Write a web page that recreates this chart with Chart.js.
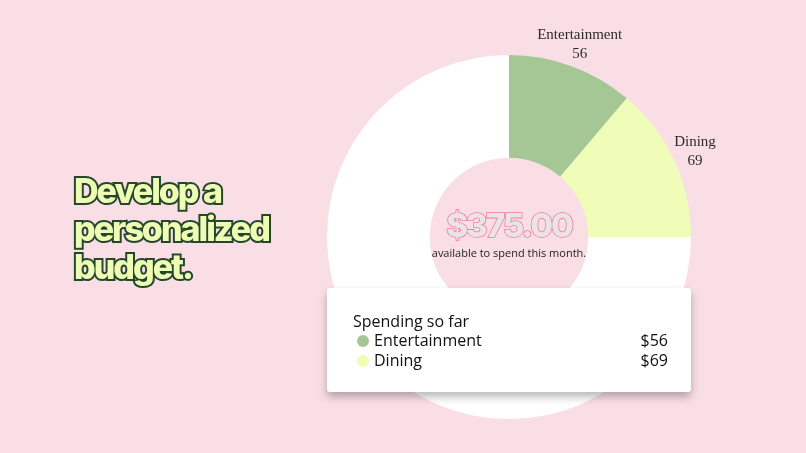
<!DOCTYPE html>
<html>
<head>
<meta charset="utf-8">
<script src="https://cdn.jsdelivr.net/npm/chart.js@4/dist/chart.umd.min.js"></script>
<style>
  html, body { margin: 0; padding: 0; }
  body { width: 806px; height: 453px; background: #fadee5; position: relative; overflow: hidden; }
  #wrap { position: absolute; left: 0; top: 0; width: 806px; height: 453px; }
  .title {
    position: absolute; left: 74px; top: 172px;
    font-family: Inter, sans-serif; font-weight: 800; font-size: 34px; line-height: 38px;
    letter-spacing: -2px; color: #effdb4;
    -webkit-text-stroke: 4px #24472c; paint-order: stroke fill;
  }
  .amount {
    position: absolute; left: 409px; width: 200px; top: 205px; text-align: center;
    font-family: Inter, sans-serif; font-weight: 800; font-size: 33px; letter-spacing: -2px;
    color: #e9e4e6; -webkit-text-stroke: 1.6px #f27aa3; paint-order: stroke fill;
  }
  .sub {
    position: absolute; left: 409px; width: 200px; top: 245px; text-align: center;
    font-family: "Open Sans", sans-serif; font-size: 11px; color: #222;
  }
  .card {
    position: absolute; left: 327px; top: 288px; width: 364px; height: 104px;
    background: #fff; border-radius: 3px; box-shadow: 0 5px 9px rgba(0,0,0,0.28);
    font-family: "Open Sans", sans-serif; font-size: 16px; color: #111;
  }
  .card .head { position: absolute; left: 26px; top: 22px; }
  .row { position: absolute; left: 30px; right: 23px; height: 20px; line-height: 20px; }
  .dot { display: inline-block; width: 12px; height: 12px; border-radius: 6px; vertical-align: -1px; margin-right: 5px; }
  .row .val { position: absolute; right: 0; top: 0; }
</style>
</head>
<body>
<div id="wrap"><canvas id="myChart" width="806" height="453"></canvas></div>
<div class="title">Develop a<br>personalized<br>budget.</div>
<div class="amount" id="amount"></div>
<div class="sub">available to spend this month.</div>
<div class="card" id="card"><div class="head">Spending so far</div></div>
<script>
var categories = ['Entertainment', 'Dining', 'Available'];
var amounts = [56, 69, 375];
var sliceColors = ['#a5c796', '#effdb8', '#ffffff'];
var labelled = [true, true, false];

document.getElementById('amount').textContent = '$' + amounts[2].toFixed(2);

// legend rows in the card
var card = document.getElementById('card');
for (var i = 0; i < 2; i++) {
  var row = document.createElement('div');
  row.className = 'row';
  row.style.top = (42 + i * 20) + 'px';
  row.innerHTML = '<span class="dot" style="background:' + sliceColors[i] + '"></span>' + categories[i] +
    '<span class="val">$' + amounts[i] + '</span>';
  card.appendChild(row);
}

// draw category + value outside each labelled slice
var outsideLabels = {
  id: 'outsideLabels',
  afterDatasetsDraw: function(chart) {
    var ctx = chart.ctx;
    var meta = chart.getDatasetMeta(0);
    ctx.save();
    ctx.fillStyle = '#2b2b2b';
    ctx.textAlign = 'center';
    ctx.textBaseline = 'middle';
    ctx.font = '15px "Liberation Serif", serif';
    meta.data.forEach(function(arc, idx) {
      if (!labelled[idx]) return;
      var p = arc.getProps(['x', 'y', 'startAngle', 'endAngle', 'outerRadius'], true);
      var a = (p.startAngle + p.endAngle) / 2;
      var r = p.outerRadius + 23;
      var x = p.x + Math.cos(a) * r;
      var y = p.y + Math.sin(a) * r;
      ctx.fillText(categories[idx], x, y - 9);
      ctx.fillText(String(amounts[idx]), x, y + 10);
    });
    ctx.restore();
  }
};

var myChart = new Chart(document.getElementById('myChart'), {
  type: 'doughnut',
  data: {
    labels: categories,
    datasets: [{
      data: amounts,
      backgroundColor: sliceColors,
      borderWidth: 0
    }]
  },
  options: {
    responsive: false,
    animation: false,
    cutout: '43.5%',
    layout: { padding: { left: 327, right: 115, top: 55, bottom: 34 } },
    plugins: { legend: { display: false }, tooltip: { enabled: false } }
  },
  plugins: [outsideLabels]
});
</script>
</body>
</html>
